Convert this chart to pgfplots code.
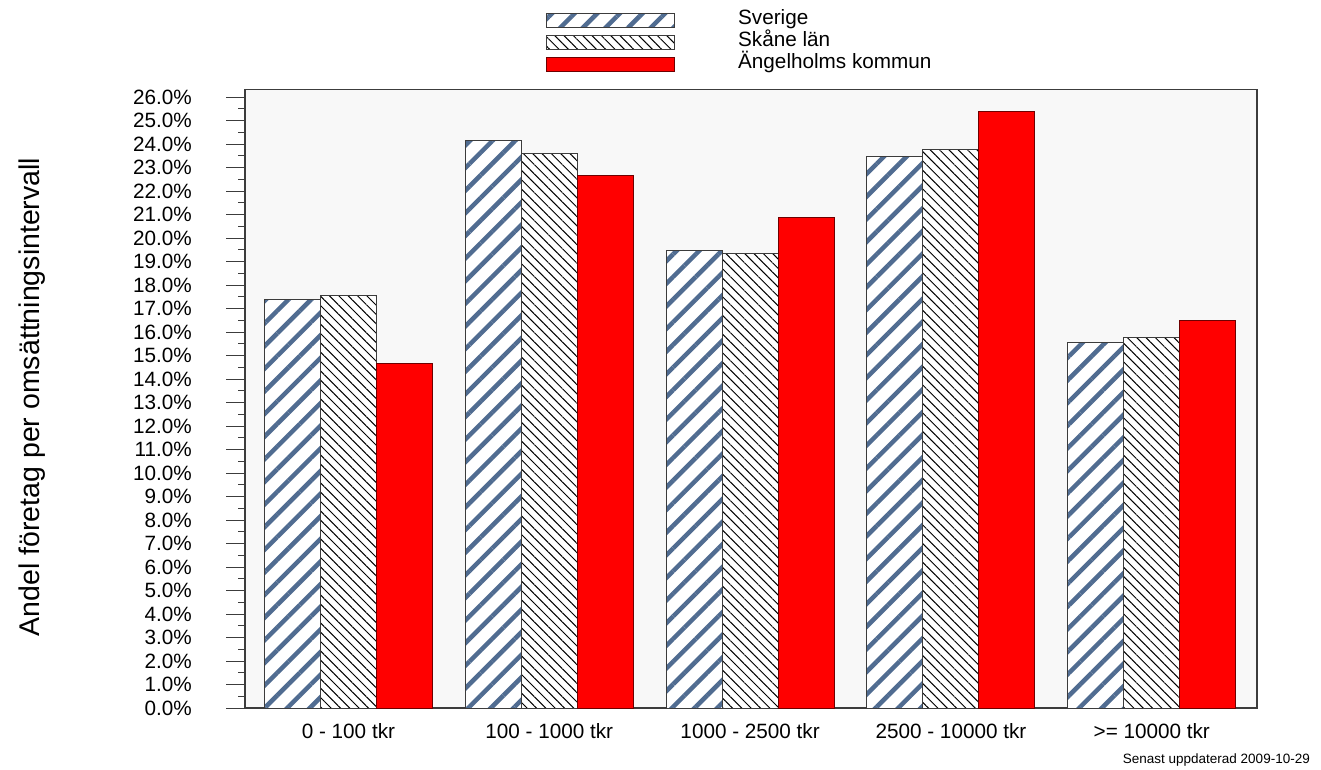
\documentclass[border=0pt]{standalone}
\usepackage{fontspec}
\setmainfont{Liberation Sans}
\usepackage{pgfplots}
\pgfplotsset{compat=1.18}
\usetikzlibrary{patterns.meta}
\definecolor{svblue}{RGB}{80,108,145}
\definecolor{bgray}{RGB}{248,248,248}
\definecolor{framegray}{RGB}{60,60,60}
\definecolor{darkred}{RGB}{110,0,0}
\newcommand\tickfont{\fontsize{20.7pt}{24pt}\selectfont}
\begin{document}
\begin{tikzpicture}
\path[use as bounding box] (0pt,0pt) rectangle (1321pt,769pt);
\begin{axis}[
  at={(245pt,61pt)}, anchor=south west,
  scale only axis, width=1012pt, height=618.5pt,
  xmin=-0.515, xmax=4.524, ymin=0, ymax=26.32,
  ybar=0pt, bar width=56pt,
  axis background/.style={fill=bgray},
  axis line style={framegray, line width=1.2pt},
  xtick={0,1,2,3,4},
  xticklabels={0 - 100 tkr, 100 - 1000 tkr, 1000 - 2500 tkr, 2500 - 10000 tkr, >= 10000 tkr},
  xtick style={draw=none},
  xticklabel style={font=\tickfont, inner sep=0pt, anchor=north, yshift=4pt},
  ytick={0,1,...,26}, minor y tick num=1, ytick pos=left,
  tick align=outside, major tick length=19pt, minor tick length=7pt,
  ytick style={framegray, line width=1pt},
  minor tick style={framegray, line width=1pt},
  /pgf/number format/assume math mode=true,
  yticklabel={\pgfmathprintnumber[fixed,fixed zerofill,precision=1]{\tick}\%},
  yticklabel style={font=\tickfont, inner sep=0pt, anchor=east, xshift=-34pt},
  ylabel={Andel företag per omsättningsintervall},
  ylabel style={font=\fontsize{28.5pt}{32pt}\selectfont, at={(axis description cs:-0.2105,0.503)}, anchor=center},
  legend image code/.code={\draw[#1] (0pt,-7pt) rectangle (128pt,7pt); \path (191pt,0pt);},
  legend style={at={(axis description cs:0.2974,1.1302)}, anchor=north west, draw=none, fill=none,
    inner sep=0pt, row sep=0pt, column sep=0pt, font=\tickfont,
    nodes={inner sep=0pt, text height=15pt, text depth=7pt}},
  legend cell align=left,
]
\addplot[draw=framegray, line width=1pt, fill=white,
  postaction={pattern={Lines[angle=45,distance=16pt,line width=4.5pt]}, pattern color=svblue}]
  coordinates {(0,17.40) (1,24.14) (2,19.45) (3,23.45) (4,15.56)};
\addplot[draw=framegray, line width=1pt, fill=white,
  postaction={pattern={Lines[angle=-45,distance=6.6pt,line width=1pt]}, pattern color=black}]
  coordinates {(0,17.57) (1,23.60) (2,19.36) (3,23.75) (4,15.76)};
\addplot[draw=darkred, line width=1pt, fill=red]
  coordinates {(0,14.67) (1,22.66) (2,20.87) (3,25.37) (4,16.50)};
\legend{Sverige, Skåne län, Ängelholms kommun}
\end{axis}
\node[anchor=base east, font=\fontsize{13.5pt}{16pt}\selectfont, inner sep=0pt] at (1310pt,6pt) {Senast uppdaterad 2009-10-29};
\end{tikzpicture}
\end{document}
